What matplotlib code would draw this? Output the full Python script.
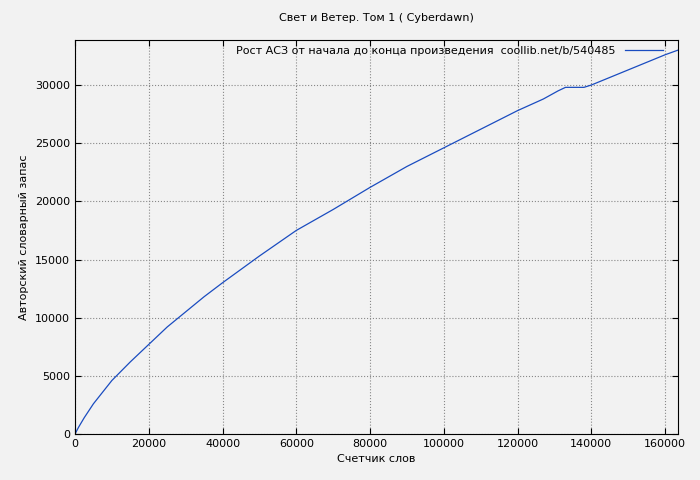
import matplotlib
matplotlib.use("Agg")
import matplotlib.pyplot as plt

words = [0, 1000, 2500, 5000, 10000, 15000, 20000, 25000, 30000, 35000, 40000, 50000, 60000, 70000, 80000, 90000,
         100000, 110000, 120000, 127000, 131000, 133000, 138000, 140000, 150000, 160000, 163500]
vocab = [0, 600, 1400, 2600, 4600, 6200, 7700, 9200, 10500, 11800, 13000, 15300, 17500, 19300, 21200, 23000,
         24600, 26200, 27800, 28800, 29500, 29800, 29800, 30000, 31300, 32600, 33000]

title = "Свет и Ветер. Том 1 ( Cyberdawn)"
label = "Рост АСЗ от начала до конца произведения  coollib.net/b/540485"

plt.rcParams['font.family'] = ['DejaVu Sans']
plt.rcParams['font.size'] = 8
fig = plt.figure(figsize=(7, 4.8), dpi=100, facecolor='#f2f2f2')
ax = fig.add_axes([75/700, 1-434/480, 603/700, 394/480], facecolor='#f2f2f2')
ax.plot(words, vocab, color='#1a4cc0', lw=0.9, label=label)
ax.set_xlim(0, 163500)
ax.set_ylim(0, 33870)
ax.set_xticks(range(0, 160001, 20000))
ax.set_yticks(range(0, 30001, 5000))
ax.grid(True, linestyle=':', color='#888888', lw=0.8)
ax.tick_params(direction='in', length=4, top=True, right=True)
ax.set_title(title, fontsize=8, pad=14)
ax.set_xlabel("Счетчик слов")
ax.set_ylabel("Авторский словарный запас")
ax.legend(loc='upper right', frameon=False, markerfirst=False, handlelength=3.5,
          borderaxespad=0.1, bbox_to_anchor=(0.985, 1.0))
fig.savefig("out.png", dpi=100, facecolor=fig.get_facecolor())
